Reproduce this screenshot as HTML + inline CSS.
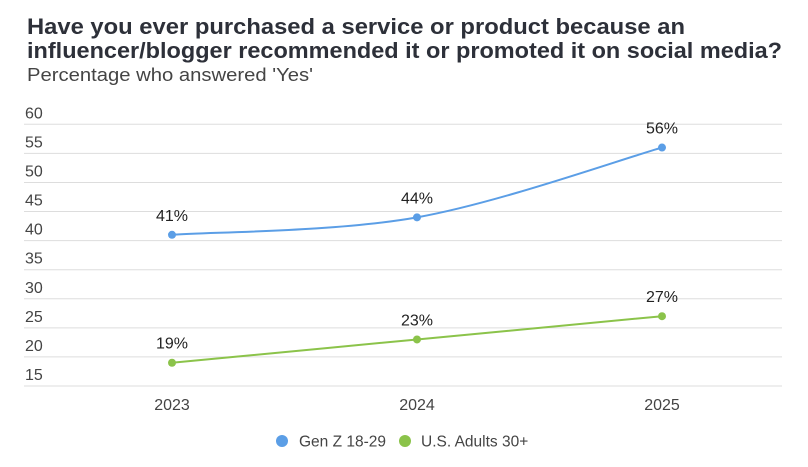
<!DOCTYPE html>
<html><head><meta charset="utf-8"><style>
body{margin:0;background:#fff;width:808px;height:462px;overflow:hidden;font-family:"Liberation Sans",Arial,sans-serif}
</style></head><body>
<svg width="808" height="462" font-family="Liberation Sans, Arial, sans-serif">
<text x="27" y="34" font-size="22" font-weight="bold" fill="#2d3039" textLength="658" lengthAdjust="spacingAndGlyphs">Have you ever purchased a service or product because an</text>
<text x="27" y="58" font-size="22" font-weight="bold" fill="#2d3039" textLength="755" lengthAdjust="spacingAndGlyphs">influencer/blogger recommended it or promoted it on social media?</text>
<text x="27" y="81" font-size="18" fill="#444" textLength="286" lengthAdjust="spacingAndGlyphs">Percentage who answered 'Yes'</text>
<g id="grid"></g><g id="series"></g><g id="xlabels"></g>
<g>
<circle cx="282" cy="441" r="6" fill="#5b9ee6"/>
<text x="299" y="446.5" font-size="15.5" fill="#444">Gen Z 18-29</text>
<circle cx="405" cy="441" r="6" fill="#8bc34a"/>
<text x="421" y="446.5" font-size="15.5" fill="#444">U.S. Adults 30+</text>
</g>
</svg>
<script>
const categories=["2023","2024","2025"];
const genZ=[41,44,56];
const adults=[19,23,27];
const yTicks=[15,20,25,30,35,40,45,50,55,60];
const NS="http://www.w3.org/2000/svg";
function y(v){return 386-(v-15)*(386-124.3)/45;}
function x(i){return 172+i*245;}
function mk(tag,attrs,parent){const e=document.createElementNS(NS,tag);for(const k in attrs)e.setAttribute(k,attrs[k]);parent.appendChild(e);return e;}
const grid=document.getElementById('grid');
yTicks.forEach(t=>{
 const l=mk('line',{x1:24,x2:782,y1:y(t),y2:y(t),stroke:'#ddd','stroke-width':1},grid);
 
 
 const tx=mk('text',{x:25,y:y(t)-6,'font-size':16,fill:'#444'},grid);
 tx.textContent=t;
 
 
});
const xl=document.getElementById('xlabels');
categories.forEach((c,i)=>{
 const t=mk('text',{x:x(i),y:410,'font-size':16,fill:'#444','text-anchor':'middle'},xl);
 t.textContent=c;
 
 
});
function path(vals){
 const p=vals.map((v,i)=>[x(i),y(v)]);
 let d='M'+p[0][0]+','+p[0][1];
 for(let i=0;i<p.length-1;i++){
  const p0=p[i-1]||p[i],p1=p[i],p2=p[i+1],p3=p[i+2]||p2;
  const c1=[p1[0]+(p2[0]-p0[0])/6,p1[1]+(p2[1]-p0[1])/6];
  const c2=[p2[0]-(p3[0]-p1[0])/6,p2[1]-(p3[1]-p1[1])/6];
  d+=' C'+c1+' '+c2+' '+p2;
 }
 return d;
}
const sg=document.getElementById('series');
[[genZ,'#5b9ee6','genz'],[adults,'#8bc34a','adults']].forEach(([vals,col,name])=>{
 const pl=mk('path',{d:path(vals),fill:'none',stroke:col,'stroke-width':2},sg);
 
 
 vals.forEach((v,i)=>{
  const c=mk('circle',{cx:x(i),cy:y(v),r:4,fill:col},sg);
  
  
  const t=mk('text',{x:x(i),y:y(v)-14,'font-size':16,fill:'#222','text-anchor':'middle'},sg);
  t.textContent=v+'%';
  
  
 });
});
</script>
</body></html>
